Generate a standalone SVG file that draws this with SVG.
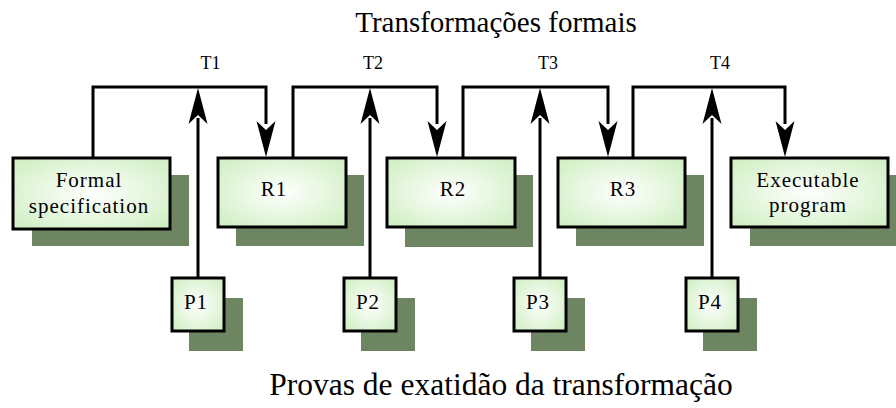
<svg xmlns="http://www.w3.org/2000/svg" width="896" height="408" viewBox="0 0 896 408">
  <defs>
    <radialGradient id="boxFill" cx="50%" cy="50%" r="70%">
      <stop offset="0" stop-color="#ffffff"/>
      <stop offset="1" stop-color="#cdeebf"/>
    </radialGradient>
  </defs>
  <style>
    .shadow { fill: #6d8560; }
    .box { fill: url(#boxFill); stroke: #000; stroke-width: 3; }
    .lbl { font-family: "Liberation Serif", "DejaVu Serif", serif; fill: #000; text-anchor: middle; }
    .name { font-size: 21px; letter-spacing: 1px; }
    .wire { fill: none; stroke: #000; stroke-width: 3; }
  </style>
  <rect width="896" height="408" fill="#fff"/>

  <text class="lbl" x="496" y="32" font-size="29">Transformações formais</text>
  <text class="lbl" x="501" y="395" font-size="31.5">Provas de exatidão da transformação</text>

  <g id="connectors">
    <!-- T1 -->
    <path class="wire" d="M93 158 V87 H266 V124"/>
    <path class="wire" d="M198 278 V118"/>
    <!-- T2 -->
    <path class="wire" d="M293 158 V87 H437 V124"/>
    <path class="wire" d="M370 278 V118"/>
    <!-- T3 -->
    <path class="wire" d="M463 158 V87 H608 V124"/>
    <path class="wire" d="M540 278 V118"/>
    <!-- T4 -->
    <path class="wire" d="M633 158 V87 H785 V124"/>
    <path class="wire" d="M712 278 V118"/>
    <!-- arrowheads -->
    <path d="M198 88 L207.5 124 L198 115 L188.5 124 Z"/>
    <path d="M370 88 L379.5 124 L370 115 L360.5 124 Z"/>
    <path d="M540 88 L549.5 124 L540 115 L530.5 124 Z"/>
    <path d="M712 88 L721.5 124 L712 115 L702.5 124 Z"/>
    <path d="M266 157 L275.5 121 L266 130 L256.5 121 Z"/>
    <path d="M437 157 L446.5 121 L437 130 L427.5 121 Z"/>
    <path d="M608 157 L617.5 121 L608 130 L598.5 121 Z"/>
    <path d="M785 157 L794.5 121 L785 130 L775.5 121 Z"/>
    <text class="lbl" x="210.5" y="69" font-size="18">T1</text>
    <text class="lbl" x="373" y="69" font-size="18">T2</text>
    <text class="lbl" x="548" y="69" font-size="18">T3</text>
    <text class="lbl" x="720" y="69" font-size="18">T4</text>
  </g>

  <g id="spec">
    <rect class="shadow" x="32" y="175" width="157" height="71"/>
    <rect class="box" x="13" y="158" width="157" height="71"/>
    <text class="lbl name" x="89" y="187">Formal</text>
    <text class="lbl name" x="89" y="213">specification</text>
  </g>
  <g id="r1">
    <rect class="shadow" x="236" y="175" width="128" height="71"/>
    <rect class="box" x="218" y="158" width="128" height="69"/>
    <text class="lbl name" x="274" y="196">R1</text>
  </g>
  <g id="r2">
    <rect class="shadow" x="405" y="175" width="128" height="72"/>
    <rect class="box" x="387" y="158" width="128" height="69"/>
    <text class="lbl name" x="453" y="196">R2</text>
  </g>
  <g id="r3">
    <rect class="shadow" x="576" y="175" width="128" height="71"/>
    <rect class="box" x="558" y="158" width="127" height="69"/>
    <text class="lbl name" x="623" y="196">R3</text>
  </g>
  <g id="program">
    <rect class="shadow" x="750" y="175" width="146" height="71"/>
    <rect class="box" x="731" y="158" width="157" height="69"/>
    <text class="lbl name" x="808" y="187">Executable</text>
    <text class="lbl name" x="808" y="212">program</text>
  </g>

  <g id="p1">
    <rect class="shadow" x="189" y="298" width="54" height="53"/>
    <rect class="box" x="172" y="278" width="52" height="53"/>
    <text class="lbl name" x="196" y="309">P1</text>
  </g>
  <g id="p2">
    <rect class="shadow" x="361" y="298" width="54" height="53"/>
    <rect class="box" x="344" y="278" width="52" height="53"/>
    <text class="lbl name" x="368" y="309">P2</text>
  </g>
  <g id="p3">
    <rect class="shadow" x="531" y="298" width="54" height="53"/>
    <rect class="box" x="514" y="278" width="52" height="53"/>
    <text class="lbl name" x="538" y="309">P3</text>
  </g>
  <g id="p4">
    <rect class="shadow" x="703" y="298" width="54" height="53"/>
    <rect class="box" x="686" y="278" width="52" height="53"/>
    <text class="lbl name" x="710" y="309">P4</text>
  </g>
</svg>
